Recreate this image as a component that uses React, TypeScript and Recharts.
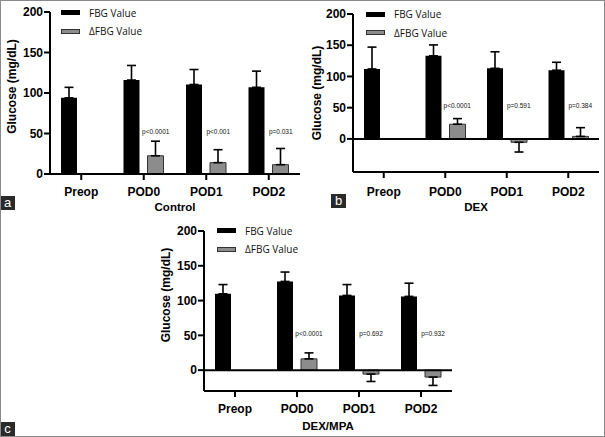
import React from "react";
import { BarChart, Bar, XAxis, YAxis, ErrorBar, ReferenceLine, ReferenceDot, Legend } from "recharts";

const categories = ["Preop", "POD0", "POD1", "POD2"];

// panel a - Control
const controlFbg = [94, 116, 110.5, 107];
const controlFbgSd = [13, 18, 18.5, 20];
const controlDelta = [null, 22.5, 14, 11.5];
const controlDeltaSd = [null, 18, 16, 20];
const controlP = ["", "p<0.0001", "p<0.001", "p=0.031"];

// panel b - DEX
const dexFbg = [112, 133, 113, 110];
const dexFbgSd = [35, 17.5, 26.5, 12.7];
const dexDelta = [null, 23.5, -5.4, 4];
const dexDeltaSd = [null, 9, 15.6, 14];
const dexP = ["", "p<0.0001", "p=0.591", "p=0.384"];

// panel c - DEX/MPA
const mpaFbg = [109.7, 127.5, 107.4, 106];
const mpaFbgSd = [13.3, 13.5, 15.6, 19];
const mpaDelta = [null, 16.2, -5.7, -10];
const mpaDeltaSd = [null, 8.6, 10.6, 12];
const mpaP = ["", "p<0.0001", "p=0.692", "p=0.932"];

const yTicks = [0, 50, 100, 150, 200];

const FONT = '"Liberation Sans", Arial, sans-serif';
const GREY = "#8c8c8c";
const P_LABEL_Y = 53;

function buildRows(fbg: number[], fbgSd: number[], delta: (number | null)[], deltaSd: (number | null)[], p: string[]) {
  return categories.map((cat, i) => {
    const d = delta[i];
    const sd = deltaSd[i];
    return {
      cat,
      fbg: fbg[i],
      fbgErr: [0, fbgSd[i]],
      delta: d,
      deltaErr: d == null || sd == null ? null : d >= 0 ? [0, sd] : [sd, 0],
      p: p[i],
    };
  });
}

function FbgLegend() {
  const row: React.CSSProperties = { display: "flex", alignItems: "center", height: 18.5 };
  const sw: React.CSSProperties = { width: 19, height: 5, marginRight: 9, boxSizing: "border-box" };
  return (
    <div style={{ fontFamily: '"Open Sans", sans-serif', fontSize: 10, color: "#111", whiteSpace: "nowrap" }}>
      <div style={row}>
        <span style={{ ...sw, background: "#000" }} />
        FBG Value
      </div>
      <div style={row}>
        <span style={{ ...sw, background: GREY, border: "1px solid #333" }} />
        ΔFBG Value
      </div>
    </div>
  );
}

interface PanelProps {
  left: number;
  top: number;
  width: number;
  height: number;
  rows: any[];
  domain: [number, number];
  marginTop: number;
  marginRight: number;
  yAxisWidth: number;
  xAxisHeight: number;
  tickGap: number;
  title: string;
  titleDy: number;
  yLabelX: number;
  yLabelShift: number;
  legendLeft: number;
  legendTop: number;
  zeroLine: boolean;
}

function Panel(props: PanelProps) {
  const { rows } = props;
  return (
    <div style={{ position: "absolute", left: props.left, top: props.top }}>
      <BarChart
        width={props.width}
        height={props.height}
        data={rows}
        margin={{ top: props.marginTop, right: props.marginRight, left: 0, bottom: 0 }}
        barSize={16}
        barGap={8}
      >
        <XAxis
          dataKey="cat"
          height={props.xAxisHeight}
          tickSize={6}
          tickMargin={props.tickGap}
          axisLine={{ stroke: "#000", strokeWidth: 2 }}
          tickLine={{ stroke: "#000", strokeWidth: 2 }}
          tick={{ fill: "#000", fontSize: 12, fontWeight: 700, fontFamily: FONT }}
          label={(lp: any) => {
            const vb = lp.viewBox;
            return (
              <text
                x={vb.x + vb.width / 2}
                y={vb.y + props.titleDy}
                textAnchor="middle"
                dominantBaseline="central"
                fontSize={11.5}
                fontWeight={700}
                fontFamily={FONT}
                fill="#000"
              >
                {props.title}
              </text>
            );
          }}
        />
        <YAxis
          width={props.yAxisWidth}
          domain={props.domain}
          ticks={yTicks}
          interval={0}
          allowDataOverflow
          tickSize={6}
          tickMargin={1}
          axisLine={{ stroke: "#000", strokeWidth: 2 }}
          tickLine={{ stroke: "#000", strokeWidth: 2 }}
          tick={{ fill: "#000", fontSize: 12, fontWeight: 700, fontFamily: FONT }}
          label={(lp: any) => {
            const vb = lp.viewBox;
            const cx = vb.x + props.yLabelX;
            const cy = vb.y + vb.height / 2 + props.yLabelShift;
            return (
              <text
                x={cx}
                y={cy}
                transform={`rotate(-90, ${cx}, ${cy})`}
                textAnchor="middle"
                dominantBaseline="central"
                fontSize={12}
                fontWeight={700}
                fontFamily={FONT}
                fill="#000"
              >
                Glucose (mg/dL)
              </text>
            );
          }}
        />
        <Legend
          layout="horizontal"
          verticalAlign="middle"
          align="center"
          wrapperStyle={{ left: props.legendLeft, top: props.legendTop, width: "auto" }}
          content={() => <FbgLegend />}
        />
        {props.zeroLine && <ReferenceLine y={0} stroke="#000" strokeWidth={2} />}
        <Bar dataKey="fbg" name="FBG Value" fill="#000" isAnimationActive={false}>
          <ErrorBar dataKey="fbgErr" width={4.5} stroke="#000" strokeWidth={1.6} direction="y" />
        </Bar>
        <Bar dataKey="delta" name="ΔFBG Value" fill={GREY} stroke="#333" strokeWidth={1} isAnimationActive={false}>
          <ErrorBar dataKey="deltaErr" width={4.5} stroke="#000" strokeWidth={1.6} direction="y" />
        </Bar>
        {rows
          .filter((r) => r.p)
          .map((r) => (
            <ReferenceDot
              key={r.cat}
              x={r.cat}
              y={P_LABEL_Y}
              r={0}
              ifOverflow="visible"
              shape={(sp: any) => (
                <text
                  x={sp.cx + 12}
                  y={sp.cy}
                  textAnchor="middle"
                  dominantBaseline="central"
                  fontSize={6.5}
                  fontFamily={FONT}
                  fill="#111"
                >
                  {r.p}
                </text>
              )}
            />
          ))}
      </BarChart>
    </div>
  );
}

function Tag({ letter, left, top }: { letter: string; left: number; top: number }) {
  return (
    <div
      style={{
        position: "absolute",
        left,
        top,
        width: 15,
        height: 14,
        background: "#2a2a2a",
        color: "#fff",
        fontFamily: FONT,
        fontSize: 13,
        lineHeight: "13px",
        textAlign: "center",
      }}
    >
      {letter}
    </div>
  );
}

export default function App() {
  const rowsA = buildRows(controlFbg, controlFbgSd, controlDelta, controlDeltaSd, controlP);
  const rowsB = buildRows(dexFbg, dexFbgSd, dexDelta, dexDeltaSd, dexP);
  const rowsC = buildRows(mpaFbg, mpaFbgSd, mpaDelta, mpaDeltaSd, mpaP);
  return (
    <div style={{ position: "absolute", left: 0, top: 0, width: 605, height: 437, background: "#fff", overflow: "hidden" }}>
      <Panel
        left={0}
        top={0}
        width={302}
        height={215}
        rows={rowsA}
        domain={[0, 200]}
        marginTop={12}
        marginRight={2}
        yAxisWidth={50}
        xAxisHeight={41}
        tickGap={7}
        title="Control"
        titleDy={33}
        yLabelX={12}
        yLabelShift={-6.5}
        legendLeft={61}
        legendTop={3.5}
        zeroLine={false}
      />
      <Panel
        left={300}
        top={0}
        width={302}
        height={215}
        rows={rowsB}
        domain={[-53, 200]}
        marginTop={14}
        marginRight={3}
        yAxisWidth={53}
        xAxisHeight={43}
        tickGap={9}
        title="DEX"
        titleDy={34.5}
        yLabelX={17}
        yLabelShift={0}
        legendLeft={66}
        legendTop={5}
        zeroLine={true}
      />
      <Panel
        left={150}
        top={215}
        width={305}
        height={222}
        rows={rowsC}
        domain={[-30, 200]}
        marginTop={16}
        marginRight={3}
        yAxisWidth={54}
        xAxisHeight={46}
        tickGap={7}
        title="DEX/MPA"
        titleDy={35}
        yLabelX={16}
        yLabelShift={-16}
        legendLeft={67}
        legendTop={6.5}
        zeroLine={true}
      />
      <Tag letter="a" left={0} top={196} />
      <Tag letter="b" left={331} top={194} />
      <Tag letter="c" left={0} top={422} />
      <div
        style={{
          position: "absolute",
          left: 0,
          top: 0,
          width: 605,
          height: 437,
          boxSizing: "border-box",
          border: "1.5px solid #8a8a8a",
          pointerEvents: "none",
        }}
      />
    </div>
  );
}
